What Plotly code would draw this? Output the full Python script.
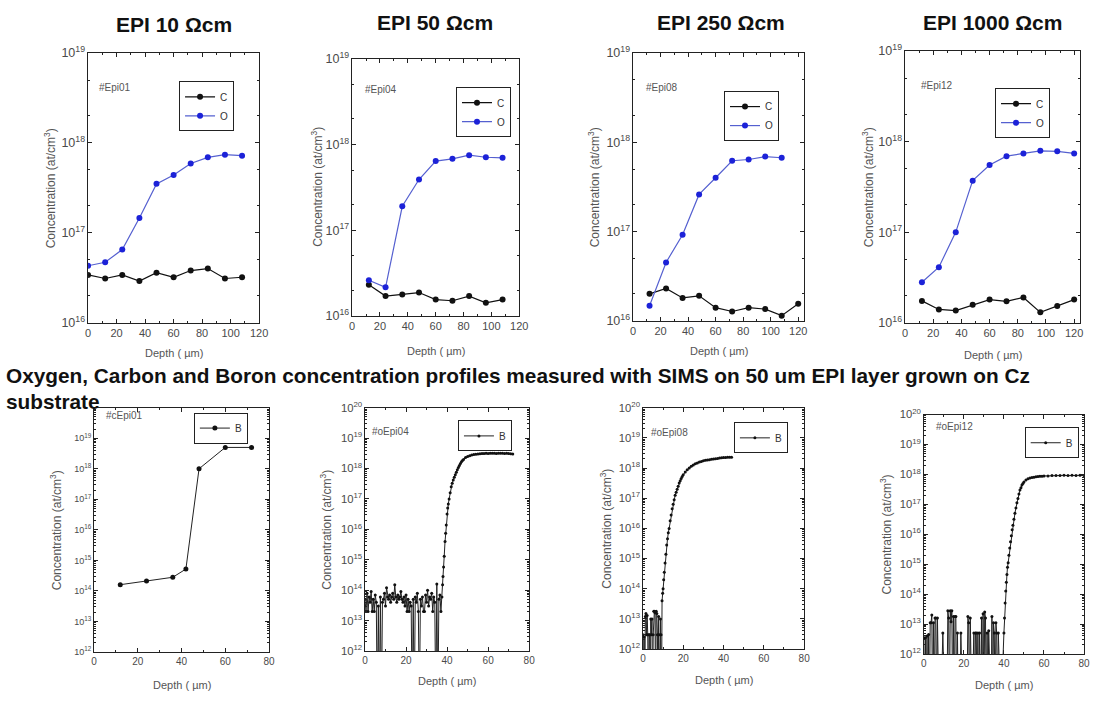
import plotly.graph_objects as go

W, H = 1096, 702


def px(x):
    return x / W


def py(y):
    return 1 - y / H


# ---------------- data: top row (C and O profiles) ----------------
DEPTH_EPI01 = [0, 12, 24, 36, 48, 60, 72, 84, 96, 108]
C_EPI01 = [3.4e16, 3.1e16, 3.4e16, 2.9e16, 3.6e16, 3.2e16, 3.8e16, 4.0e16, 3.1e16, 3.2e16]
O_EPI01 = [4.3e16, 4.7e16, 6.5e16, 1.46e17, 3.5e17, 4.4e17, 5.9e17, 6.9e17, 7.4e17, 7.2e17]

DEPTH_EPI04 = [12, 24, 36, 48, 60, 72, 84, 96, 108]
C_EPI04 = [2.3e16, 1.7e16, 1.78e16, 1.87e16, 1.55e16, 1.5e16, 1.7e16, 1.42e16, 1.55e16]
O_EPI04 = [2.6e16, 2.15e16, 1.9e17, 3.9e17, 6.4e17, 6.8e17, 7.5e17, 7.1e17, 7.0e17]

DEPTH_EPI08_C = [12, 24, 36, 48, 60, 72, 84, 96, 108, 120]
C_EPI08 = [2.0e16, 2.3e16, 1.8e16, 1.9e16, 1.4e16, 1.27e16, 1.4e16, 1.35e16, 1.14e16, 1.55e16]
DEPTH_EPI08_O = [12, 24, 36, 48, 60, 72, 84, 96, 108]
O_EPI08 = [1.47e16, 4.5e16, 9.2e16, 2.6e17, 4.0e17, 6.2e17, 6.4e17, 6.9e17, 6.7e17]

DEPTH_EPI12 = [12, 24, 36, 48, 60, 72, 84, 96, 108, 120]
C_EPI12 = [1.74e16, 1.4e16, 1.36e16, 1.58e16, 1.8e16, 1.72e16, 1.9e16, 1.3e16, 1.53e16, 1.8e16]
O_EPI12 = [2.8e16, 4.1e16, 1.0e17, 3.7e17, 5.5e17, 6.9e17, 7.4e17, 7.9e17, 7.8e17, 7.4e17]

# ---------------- data: bottom row (B profiles, depth um / at cm-3) ----------------
# 1e10 marks a point below the detection floor (drawn as a drop to the axis)
DEPTH_CEPI01 = [12, 24, 36, 42, 48, 60, 72]
B_CEPI01 = [1.6e14, 2.1e14, 2.8e14, 5.2e14, 1.0e18, 5.0e18, 5.0e18]

B_OEPI04 = [
    (0.0, 5e13), (0.5, 2e13), (1.0, 8e13), (1.5, 2e13), (2.0, 6e13), (2.5, 4e13), (3.0, 9e13), (3.5, 2e13),
    (4.0, 5e13), (4.5, 2e13), (5.0, 7e13), (5.5, 4e13), (6.0, 1e10), (6.5, 3e13), (7.0, 1e10), (7.5, 6e13),
    (8.0, 1e10), (8.5, 4e13), (9.0, 5e13), (9.5, 8e13), (10.0, 3e13), (10.5, 1.2e14), (11.0, 6e13), (11.5, 5e13),
    (12.0, 7e13), (12.5, 4e13), (13.0, 6e13), (13.5, 8e13), (14.0, 5e13), (14.5, 1.5e14), (15.0, 6e13),
    (15.5, 4e13), (16.0, 7e13), (16.5, 5e13), (17.0, 6e13), (17.5, 9e13), (18.0, 5e13), (18.5, 4e13),
    (19.0, 6e13), (19.5, 3e13), (20.0, 7e13), (20.5, 2e13), (21.0, 5e13), (21.5, 2e13), (22.0, 4e13),
    (22.5, 3e13), (23.0, 1e10), (23.5, 5e13), (24.0, 1e10), (24.5, 6e13), (25.0, 4e13), (25.5, 8e13),
    (26.0, 2e13), (26.5, 1e10), (27.0, 5e13), (27.5, 3e13), (28.0, 6e13), (28.5, 2e13), (29.0, 2e13),
    (29.5, 7e13), (30.0, 4e13), (30.5, 1e14), (31.0, 3e13), (31.5, 6e13), (32.0, 5e13), (32.5, 8e13),
    (33.0, 2e13), (33.5, 6e13), (34.0, 4e13), (34.5, 1e10), (35.0, 1.6e14), (35.5, 1e10), (36.0, 5e13),
    (36.5, 7e13), (37.0, 2e13), (37.5, 6e13),
    (37.8, 1.5e14), (38.0, 2.8e14), (38.3, 5.8e14), (38.6, 1.3e15), (39.0, 4.0e15), (39.3, 7.5e15),
    (39.6, 1.4e16), (40.0, 3.2e16), (40.3, 5.0e16), (40.6, 6.8e16), (41.0, 1.0e17), (41.5, 1.6e17),
    (42.0, 2.5e17), (42.5, 3.3e17), (43.0, 4.2e17), (43.5, 5.2e17), (44.0, 6.3e17), (44.5, 7.6e17),
    (45.0, 9.1e17), (45.5, 1.08e18), (46.0, 1.26e18), (46.5, 1.45e18), (47.0, 1.66e18), (47.5, 1.85e18),
    (48.0, 2.0e18), (49.0, 2.3e18), (50.0, 2.5e18), (51.0, 2.65e18), (52.0, 2.8e18), (53.0, 2.9e18),
    (54.0, 2.95e18), (55.0, 3.0e18), (56.0, 3.05e18), (57.0, 3.1e18), (58.0, 3.1e18), (59.0, 3.15e18),
    (60.0, 3.1e18), (61.0, 3.15e18), (62.0, 3.2e18), (63.0, 3.15e18), (64.0, 3.1e18), (65.0, 3.15e18),
    (66.0, 3.2e18), (67.0, 3.15e18), (68.0, 3.1e18), (69.0, 3.15e18), (70.0, 3.1e18), (71.0, 3.05e18),
    (72.0, 3.0e18),
]

B_OEPI08 = [
    (0.0, 3e12), (0.3, 1e10), (0.6, 2.5e12), (0.9, 1e10), (1.2, 1.2e13), (1.5, 1.5e13), (1.8, 3e12),
    (2.1, 1.3e13), (2.4, 3e12), (2.7, 1e10), (3.0, 3e12), (3.3, 3e12), (3.6, 1e10), (3.9, 1e13),
    (4.2, 3e12), (4.5, 1e13), (4.8, 1e10), (5.1, 3e12), (5.4, 1.8e13), (5.7, 1.8e13), (6.0, 1.6e13),
    (6.3, 1e10), (6.6, 1.8e13), (6.9, 1.5e13), (7.2, 3e12), (7.5, 1e10), (7.8, 1.2e13), (8.1, 3e12),
    (8.4, 1e10), (8.7, 1e13), (9.0, 3e12), (9.2, 1e10),
    (9.5, 4.0e13), (9.8, 7.1e13), (10.0, 1.0e14), (10.3, 2.0e14), (10.6, 3.5e14), (11.0, 7.1e14),
    (11.4, 1.4e15), (11.8, 2.8e15), (12.2, 4.5e15), (12.6, 7.1e15), (13.0, 1.0e16), (13.5, 1.8e16),
    (14.0, 2.8e16), (14.5, 4.5e16), (15.0, 6.3e16), (15.5, 8.9e16), (16.0, 1.26e17), (16.5, 1.58e17),
    (17.0, 2.0e17), (17.5, 2.5e17), (18.0, 3.2e17), (18.5, 3.8e17), (19.0, 4.5e17), (19.5, 5.2e17),
    (20.0, 6.0e17), (21.0, 7.4e17), (22.0, 8.7e17), (23.0, 1.0e18), (24.0, 1.15e18), (25.0, 1.26e18),
    (26.0, 1.38e18), (27.0, 1.48e18), (28.0, 1.58e18), (29.0, 1.66e18), (30.0, 1.74e18), (31.0, 1.82e18),
    (32.0, 1.86e18), (33.0, 1.9e18), (34.0, 1.95e18), (35.0, 2.0e18), (36.0, 2.04e18), (37.0, 2.09e18),
    (38.0, 2.14e18), (39.0, 2.19e18), (40.0, 2.24e18), (41.0, 2.24e18), (42.0, 2.29e18), (43.0, 2.29e18),
    (44.0, 2.29e18),
]

B_OEPI12 = [
    (0.0, 3.5e12), (0.4, 1e10), (0.8, 3.5e12), (1.2, 1e10), (1.6, 4e12), (2.0, 1e10), (2.4, 4.5e12),
    (2.8, 1e10), (3.2, 1.1e13), (3.6, 1.1e13), (4.0, 2.0e13), (4.4, 1e10), (4.8, 1.1e13), (5.2, 1e10),
    (5.6, 1.6e13), (6.0, 1.6e13), (6.4, 1e10), (6.8, 1.6e13), (7.2, 1e10), (7.6, 1e10), (8.5, 1e10),
    (9.5, 5e12), (10.5, 1e10), (11.5, 1e10), (12.0, 2.8e13), (12.4, 1.6e13), (12.8, 1e10), (13.2, 2.8e13),
    (13.6, 1.2e13), (14.0, 2.8e13), (14.4, 1e10), (14.8, 1.8e13), (15.2, 1e10), (15.6, 1.8e13),
    (16.0, 1.8e13), (16.4, 1e10), (16.8, 5e12), (17.2, 1e10), (18.0, 1e10), (18.5, 5e12), (19.5, 1e10),
    (20.5, 1e10), (21.5, 1e10), (22.0, 1.8e13), (22.4, 1.1e13), (22.8, 1e10), (23.2, 1.6e13), (24.0, 1e10),
    (25.0, 5e12), (25.4, 1e10), (25.8, 5e12), (26.2, 5e12), (26.6, 1e10), (27.0, 5e12), (27.4, 1e10),
    (27.8, 5e12), (28.4, 1e10), (28.8, 1.6e13), (29.2, 1e10), (29.6, 2.2e13), (30.0, 1e10), (30.4, 2.5e13),
    (30.8, 1.6e13), (31.2, 1e10), (31.6, 5e12), (32.0, 1e10), (32.4, 6e12), (32.8, 1e10), (33.6, 1e10),
    (34.0, 1.8e13), (34.4, 1e10), (34.8, 1.1e13), (35.2, 5e12), (35.6, 1e10), (36.0, 1.1e13), (36.4, 5e12),
    (36.8, 1e10), (37.2, 5e12), (38.5, 1e10),
    (40.0, 5.0e12), (40.3, 1.6e13), (40.6, 5.0e13), (40.9, 1.26e14), (41.2, 2.5e14), (41.5, 4.5e14),
    (41.8, 7.9e14), (42.1, 1.12e15), (42.5, 2.0e15), (42.9, 3.5e15), (43.3, 5.6e15), (43.7, 8.9e15),
    (44.1, 1.4e16), (44.5, 2.0e16), (45.0, 3.2e16), (45.5, 5.0e16), (46.0, 7.6e16), (46.5, 1.12e17),
    (47.0, 1.58e17), (47.5, 2.2e17), (48.0, 3.0e17), (48.5, 3.6e17), (49.0, 4.4e17), (49.5, 5.0e17),
    (50.0, 5.6e17), (51.0, 6.5e17), (52.0, 7.1e17), (53.0, 7.6e17), (54.0, 7.9e17), (55.0, 8.1e17),
    (56.0, 8.3e17), (57.0, 8.5e17), (58.0, 8.7e17), (59.0, 8.7e17), (60.0, 8.9e17), (62.0, 8.9e17),
    (64.0, 9.1e17), (66.0, 9.1e17), (68.0, 9.1e17), (70.0, 9.3e17), (72.0, 9.1e17), (74.0, 9.3e17),
    (76.0, 9.1e17), (78.0, 9.3e17), (80.0, 9.1e17),
]

# y ticks of the first boron panel (its 10^20 label is hidden under the caption)
B_CEPI01_YTICKS = [1e12, 1e13, 1e14, 1e15, 1e16, 1e17, 1e18, 1e19]
B_CEPI01_YLABELS = ["10<sup>12</sup>", "10<sup>13</sup>", "10<sup>14</sup>", "10<sup>15</sup>",
                    "10<sup>16</sup>", "10<sup>17</sup>", "10<sup>18</sup>", "10<sup>19</sup>"]

TITLES = ["EPI 10 Ωcm", "EPI 50 Ωcm", "EPI 250 Ωcm", "EPI 1000 Ωcm"]
SAMPLES = ["#Epi01", "#Epi04", "#Epi08", "#Epi12", "#cEpi01", "#oEpi04", "#oEpi08", "#oEpi12"]
CAPTION_1 = "Oxygen, Carbon and Boron concentration profiles measured with SIMS on 50 um EPI layer grown on Cz"
CAPTION_2 = "substrate"
Y_TITLE = "Concentration (at/cm<sup>3</sup>)"
X_TITLE = "Depth ( µm)"


def split(pairs):
    return [p[0] for p in pairs], [p[1] for p in pairs]


d4, b4 = split(B_OEPI04)
d8, b8 = split(B_OEPI08)
d12, b12 = split(B_OEPI12)

FONT = "Liberation Sans, Arial, sans-serif"
TXT = "#4a4a4a"
O_LINE = "#5560d0"
O_MARK = "#1c22d8"

# layout of each panel (pixel boxes: left, top, right, bottom)
panels = [
    dict(box=(86, 45, 259, 321), xr=[0, 120], yr=[16, 19], leg=(178, 74), lab=(95, 80), yt=47, xt=352,
         series=[("C", DEPTH_EPI01, C_EPI01), ("O", DEPTH_EPI01, O_EPI01)]),
    dict(box=(353, 51, 522, 314), xr=[0, 120], yr=[16, 19], leg=(458, 80), lab=(364, 82), yt=318, xt=350,
         series=[("C", DEPTH_EPI04, C_EPI04), ("O", DEPTH_EPI04, O_EPI04)]),
    dict(box=(637, 45, 810, 319), xr=[0, 124.3], yr=[16, 19], leg=(729, 84), lab=(648, 80), yt=597, xt=350,
         series=[("C", DEPTH_EPI08_C, C_EPI08), ("O", DEPTH_EPI08_O, O_EPI08)]),
    dict(box=(912, 43, 1089, 321), xr=[0, 124.2], yr=[16, 19], leg=(1003, 81), lab=(926, 78), yt=874, xt=354,
         series=[("C", DEPTH_EPI12, C_EPI12), ("O", DEPTH_EPI12, O_EPI12)]),
    dict(box=(92, 408, 269, 658), xr=[0, 80], yr=[12, 20], leg=(193, 413), lab=(102, 416), yt=53, xt=692,
         series=[("B", DEPTH_CEPI01, B_CEPI01)], yticks=(B_CEPI01_YTICKS, B_CEPI01_YLABELS)),
    dict(box=(366, 408, 532, 657), xr=[0, 80], yr=[12, 20], leg=(460, 421), lab=(371, 432), yt=327, xt=688,
         series=[("B", d4, b4)]),
    dict(box=(647, 408, 810, 655), xr=[0, 80], yr=[12, 20], leg=(739, 423), lab=(653, 433), yt=610, xt=687,
         series=[("B", d8, b8)]),
    dict(box=(931, 415, 1093, 660), xr=[0, 80], yr=[12, 20], leg=(1033, 428), lab=(941, 427), yt=893, xt=692,
         series=[("B", d12, b12)]),
]

fig = go.Figure()
layout = dict(
    width=W, height=H, margin=dict(l=0, r=0, t=0, b=0),
    paper_bgcolor="white", plot_bgcolor="white",
    font=dict(family=FONT, color=TXT),
    showlegend=True,
)
annotations = []

for i, p in enumerate(panels):
    k = i + 1
    xs = "" if k == 1 else str(k)
    l, t, r, b = p["box"]
    top = i < 4
    legname = "legend" if k == 1 else f"legend{k}"
    for name, xv, yv in p["series"]:
        if name == "O":
            line = dict(color=O_LINE, width=1.2)
            marker = dict(color=O_MARK, size=6, symbol="circle")
        elif name == "C":
            line = dict(color="#111111", width=1.2)
            marker = dict(color="#111111", size=6, symbol="circle")
        else:
            dense = len(xv) > 20
            line = dict(color="#222222", width=1)
            marker = dict(color="#111111", size=3 if dense else 5, symbol="circle")
        fig.add_trace(go.Scatter(
            x=xv, y=yv, name=name, mode="lines+markers", line=line, marker=marker,
            xaxis="x" + xs, yaxis="y" + xs, legend=legname,
        ))
    axis_common = dict(
        showline=True, linecolor="#222", linewidth=1, mirror="allticks",
        ticks="inside", tickcolor="#222", ticklen=4, tickwidth=1,
        showgrid=False, zeroline=False,
    )
    layout["xaxis" + xs] = dict(
        axis_common, domain=[px(l), px(r)], anchor="y" + xs, range=p["xr"], dtick=20, tick0=0,
        tickfont=dict(size=11 if top else 10, color=TXT),
        minor=dict(ticks="inside", dtick=10, ticklen=2, tickcolor="#222"),
    )
    yax = dict(
        axis_common, domain=[py(b), py(t)], anchor="x" + xs, type="log", range=p["yr"], dtick=1,
        exponentformat="power", tickfont=dict(size=10 if top else 9, color=TXT),
        minor=dict(ticks="inside", dtick="D2" if top else "D1", ticklen=2, tickcolor="#222"),
    )
    if "yticks" in p:
        yax["tickmode"] = "array"
        yax["tickvals"] = p["yticks"][0]
        yax["ticktext"] = p["yticks"][1]
    layout["yaxis" + xs] = yax
    lx, ly = p["leg"]
    layout[legname] = dict(
        x=px(lx), y=py(ly), xanchor="left", yanchor="top", xref="paper", yref="paper",
        bordercolor="#222", borderwidth=1, bgcolor="white",
        font=dict(size=10, color="#333", family=FONT), itemwidth=30, tracegroupgap=0,
    )
    annotations.append(dict(
        text=SAMPLES[i], x=px(p["lab"][0]), y=py(p["lab"][1]), xref="paper", yref="paper",
        xanchor="left", yanchor="middle", showarrow=False, font=dict(size=10, color="#555"),
    ))
    annotations.append(dict(
        text=Y_TITLE, x=px(p["yt"]), y=py((t + b) / 2), xref="paper", yref="paper", textangle=-90,
        xanchor="center", yanchor="middle", showarrow=False, font=dict(size=12, color="#555"),
    ))
    annotations.append(dict(
        text=X_TITLE, x=px((l + r) / 2), y=py(p["xt"]), xref="paper", yref="paper",
        xanchor="center", yanchor="middle", showarrow=False, font=dict(size=11, color="#555"),
    ))

title_pos = [(173, 16), (437, 14), (726, 14), (1000, 14)]
for txt, (tx, ty) in zip(TITLES, title_pos):
    annotations.append(dict(
        text="<b>" + txt + "</b>", x=px(tx), y=py(ty), xref="paper", yref="paper",
        xanchor="center", yanchor="middle", showarrow=False, font=dict(size=21, color="#111"),
    ))

annotations.append(dict(
    text="<b>" + CAPTION_1 + "</b>", x=px(1), y=py(375), xref="paper", yref="paper",
    xanchor="left", yanchor="middle", showarrow=False, font=dict(size=20.8, color="#111"),
))
annotations.append(dict(
    text="<b>" + CAPTION_2 + "</b>", x=px(1), y=py(402), xref="paper", yref="paper",
    xanchor="left", yanchor="middle", showarrow=False, font=dict(size=20.8, color="#111"),
))

layout["annotations"] = annotations
fig.update_layout(**layout)
fig.write_html(
    "out.html",
    config={"displayModeBar": False},
    post_script="document.body.style.margin='0px';document.body.style.padding='0px';",
)
